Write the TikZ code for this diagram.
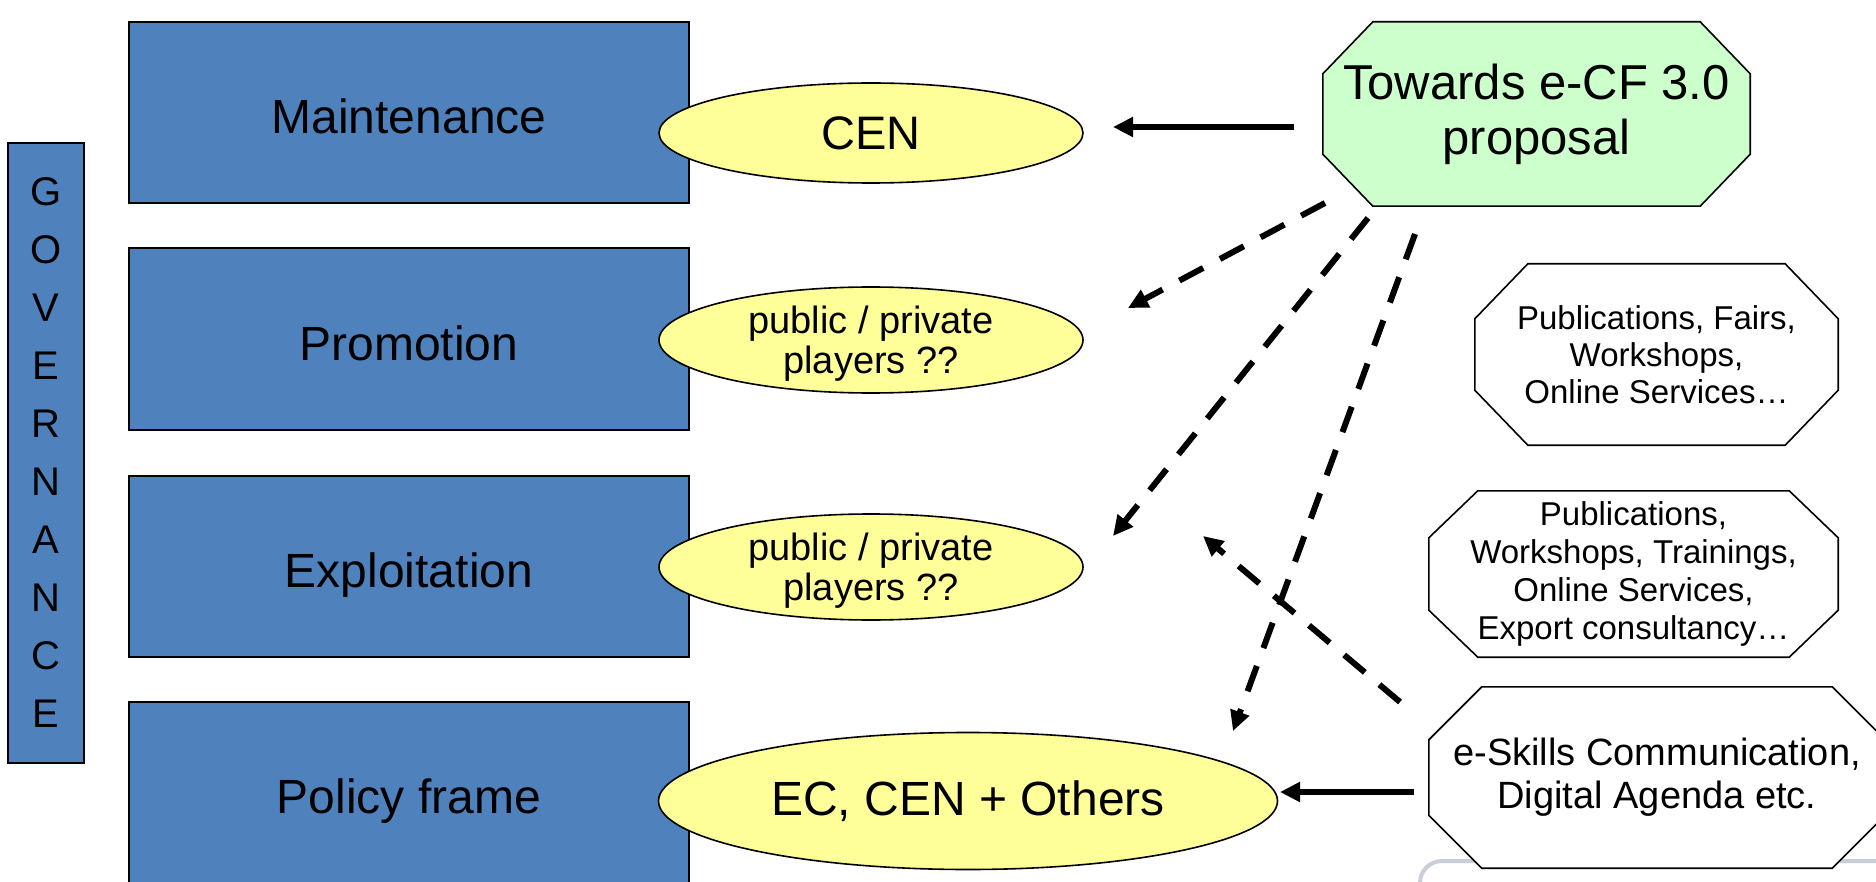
\documentclass[tikz,border=0pt]{standalone}
\usepackage{fontspec}
\setmainfont{Liberation Sans}
\usetikzlibrary{arrows.meta,shapes.geometric,backgrounds}
\definecolor{boxblue}{RGB}{79,129,189}
\definecolor{ellyellow}{RGB}{255,255,153}
\definecolor{octgreen}{RGB}{204,255,204}
\definecolor{framegray}{RGB}{200,207,216}
\newcommand{\octdraw}[4]{\draw[draw=black, line width=1.6pt, #4] ([xshift=#2]#1.north west) -- ([xshift=-#2]#1.north east) -- ([yshift=-#3]#1.north east) -- ([yshift=#3]#1.south east) -- ([xshift=-#2]#1.south east) -- ([xshift=#2]#1.south west) -- ([yshift=#3]#1.south west) -- ([yshift=-#3]#1.north west) -- cycle;}
\tikzset{
  bluebox/.style={rectangle, draw=black, line width=2pt, fill=boxblue, minimum width=560pt, minimum height=181pt, inner sep=0pt, text height=42pt, text depth=0pt, font=\fontsize{48}{58}\selectfont},
  govbox/.style={rectangle, draw=black, line width=2pt, fill=boxblue, minimum width=76pt, minimum height=619pt, inner sep=0pt, align=center, font=\fontsize{40}{58}\selectfont},
  yellowell/.style={ellipse, draw=black, line width=1.6pt, fill=ellyellow, inner sep=0pt},
  octbox/.style={rectangle, inner sep=0pt, align=center},
  solidarrow/.style={line width=6pt, -{Triangle[length=20pt,width=19pt]}},
  dasharrow/.style={line width=6pt, dash pattern=on 27pt off 19pt, -{Triangle[length=20pt,width=19pt]}}
}
\begin{document}
\begin{tikzpicture}[x=1pt,y=-1pt]
\useasboundingbox (0,0) rectangle (1876,882);
\clip (0,0) rectangle (1876,882);
% left column
\node[govbox] (gov) at (46,453) {G\\O\\V\\E\\R\\N\\A\\N\\C\\E};
\node[bluebox] (maint) at (409,112.5) {Maintenance};
\node[bluebox] (promo) at (409,339) {Promotion};
\node[bluebox] (explo) at (409,566.5) {Exploitation};
\node[bluebox] (policy) at (409,792.5) {Policy frame};
% ellipses
\node[yellowell, minimum width=424pt, minimum height=100pt, font=\fontsize{47}{56}\selectfont] (cen) at (871,133) {CEN};
\node[yellowell, minimum width=424pt, minimum height=106pt, align=center, text depth=0pt, font=\fontsize{38}{40}\selectfont] (pp1) at (871,340) {public / private\\players ??};
\node[yellowell, minimum width=424pt, minimum height=106pt, align=center, text depth=0pt, font=\fontsize{38}{40}\selectfont] (pp2) at (871,567) {public / private\\players ??};
\node[yellowell, minimum width=619pt, minimum height=137pt, font=\fontsize{48}{58}\selectfont] (ec) at (968,801) {EC, CEN + Others};
% octagon texts
\node[octbox, minimum width=427pt, minimum height=184pt, font=\fontsize{49}{55}\selectfont] (prop) at (1536.5,114) {Towards e-CF 3.0\\proposal};
\node[octbox, minimum width=363pt, minimum height=181pt, font=\fontsize{33}{37}\selectfont] (pub1) at (1656.5,354.5) {Publications, Fairs,\\Workshops,\\Online Services…};
\node[octbox, minimum width=409pt, minimum height=166pt, font=\fontsize{33}{38}\selectfont] (pub2) at (1633.5,574) {Publications,\\Workshops, Trainings,\\Online Services,\\Export consultancy…};
\node[octbox, minimum width=456pt, minimum height=181pt, font=\fontsize{38}{43}\selectfont] (esk) at (1657,777.5) {e-Skills Communication,\\Digital Agenda etc.};
% octagon outlines behind texts
\begin{scope}[on background layer]
  \draw[framegray, line width=4pt, rounded corners=22pt] (1420,900) -- (1420,861) -- (1900,861);
  \octdraw{prop}{50pt}{52pt}{fill=octgreen}
  \octdraw{pub1}{53pt}{55pt}{fill=white}
  \octdraw{pub2}{49pt}{47pt}{fill=white}
  \octdraw{esk}{53pt}{53pt}{fill=white}
\end{scope}
% connector ends
\coordinate (a1s) at (1294,127);
\coordinate (a1e) at (1113,127);
\coordinate (a2s) at (1414,792);
\coordinate (a2e) at (1280,792);
\coordinate (d1s) at (1325,203);
\coordinate (d1e) at (1128,308);
\coordinate (d2s) at (1368,218);
\coordinate (d2e) at (1113,536);
\coordinate (d3s) at (1415,234);
\coordinate (d3e) at (1233,731);
\coordinate (d4s) at (1400,702);
\coordinate (d4e) at (1203,536);
% connectors
\draw[solidarrow] (a1s) -- (a1e);
\draw[solidarrow] (a2s) -- (a2e);
\draw[dasharrow] (d1s) -- (d1e);
\draw[dasharrow] (d2s) -- (d2e);
\draw[dasharrow] (d3s) -- (d3e);
\draw[dasharrow] (d4s) -- (d4e);
\end{tikzpicture}
\end{document}
